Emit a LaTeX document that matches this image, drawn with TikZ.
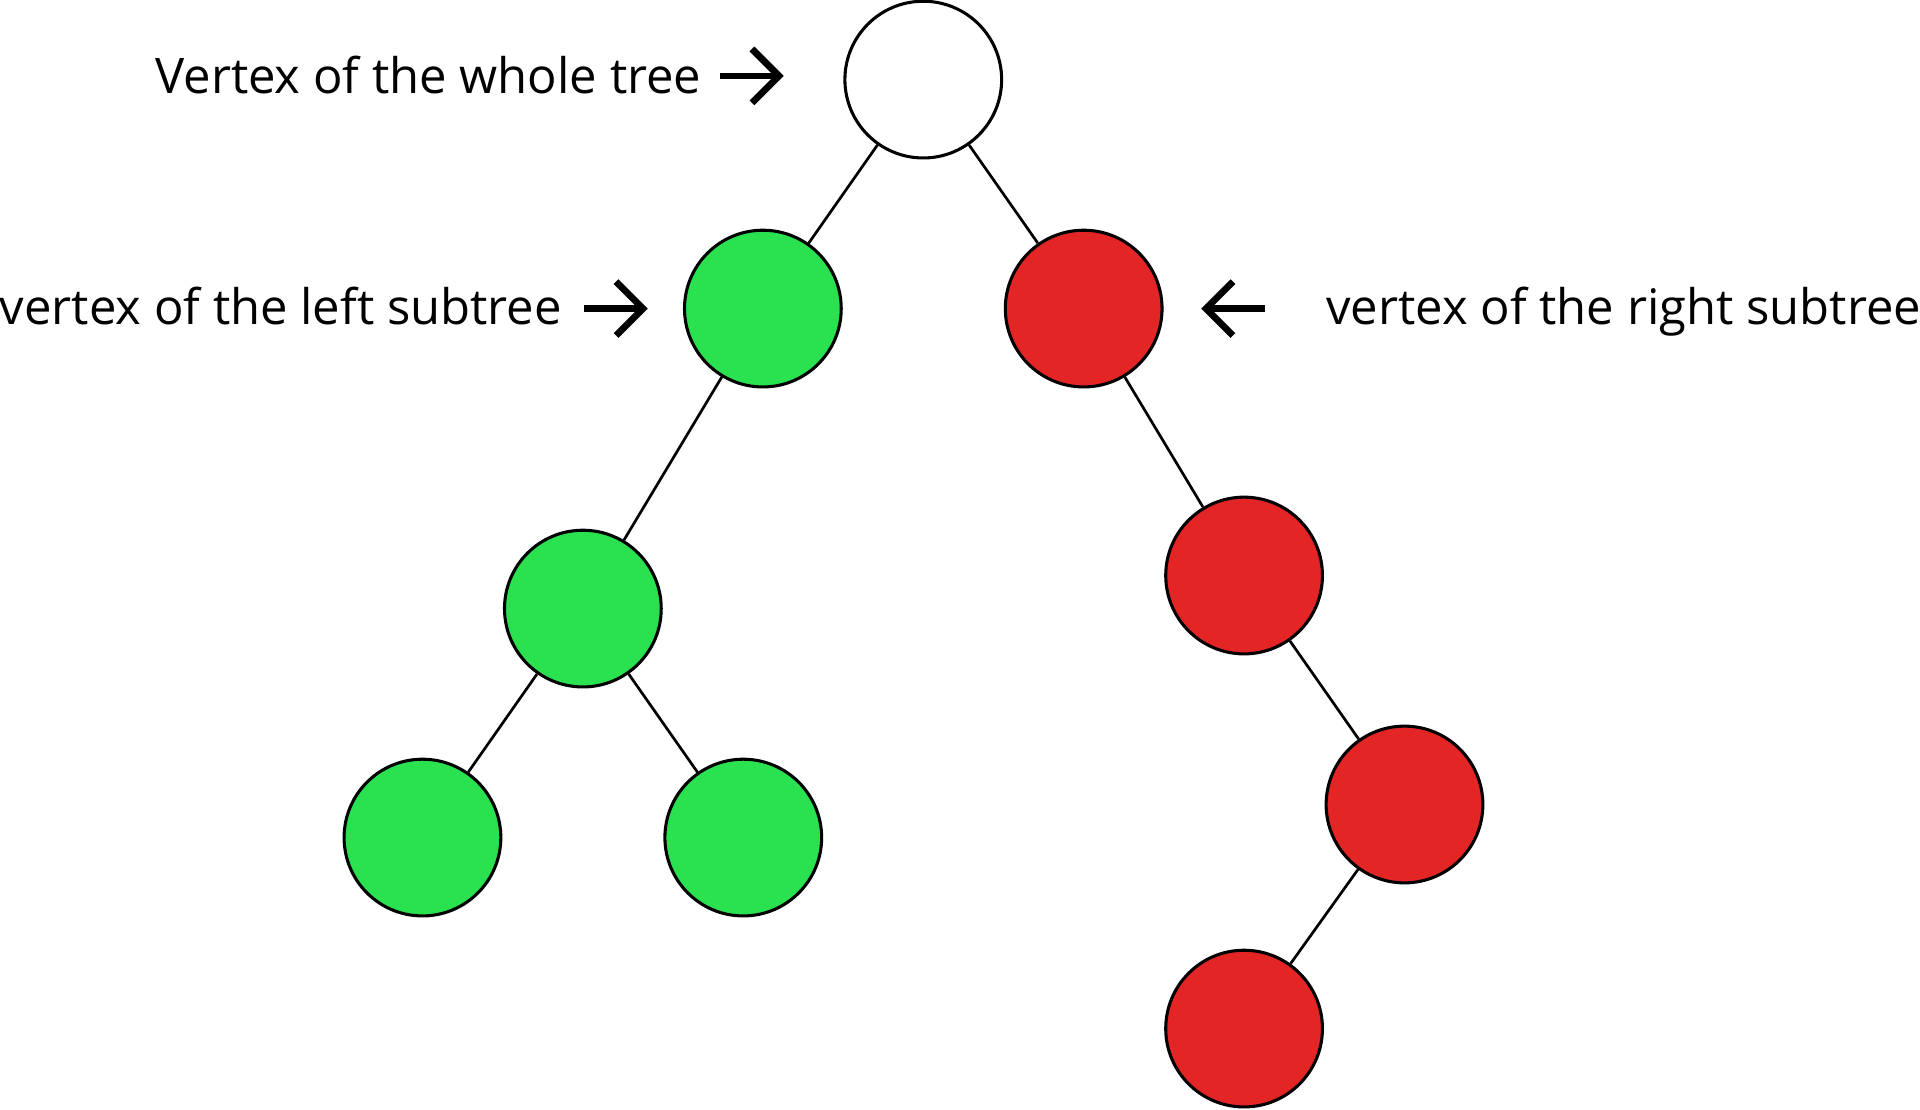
\documentclass[tikz,border=0pt]{standalone}
\usepackage{fontspec}
\setmainfont{Open Sans}
\usetikzlibrary{arrows.meta}

\definecolor{vgreen}{RGB}{42,226,79}
\definecolor{vred}{RGB}{227,37,38}

\tikzset{
  vertex/.style={circle,draw,line width=2.5pt,minimum size=128pt,inner sep=0pt},
  greenv/.style={vertex,fill=vgreen},
  redv/.style={vertex,fill=vred},
  link/.style={line width=2.2pt},
  pointer/.style={line width=5.5pt,-{Straight Barb[length=22pt,width=44pt,line width=5.5pt]}},
  caption/.style={font=\fontsize{40}{46}\selectfont,inner sep=0pt}
}

\begin{document}
\begin{tikzpicture}[x=1pt,y=-1pt]
\useasboundingbox (0,0) rectangle (1568,906);

\node[vertex] (root) at (754,65) {};
\node[greenv] (l) at (623,252) {};
\node[redv] (r) at (885,252) {};
\node[greenv] (ll) at (476,497) {};
\node[greenv] (lll) at (345,684) {};
\node[greenv] (llr) at (607,684) {};
\node[redv] (rr) at (1016,470) {};
\node[redv] (rrr) at (1147,657) {};
\node[redv] (rrrl) at (1016,840) {};

\draw[link] (root) -- (l);
\draw[link] (root) -- (r);
\draw[link] (l) -- (ll);
\draw[link] (ll) -- (lll);
\draw[link] (ll) -- (llr);
\draw[link] (r) -- (rr);
\draw[link] (rr) -- (rrr);
\draw[link] (rrr) -- (rrrl);

\node[caption,anchor=base east] (twhole) at (573,76) {Vertex of the whole tree};
\node[caption,anchor=base east] (tleft) at (459,265) {vertex of the left subtree};
\node[caption,anchor=base west] (tright) at (1083,265) {vertex of the right subtree};

\coordinate (pw1) at (588,62);
\coordinate (pw2) at (640,62);
\coordinate (pl1) at (477,252);
\coordinate (pl2) at (529,252);
\coordinate (pr1) at (1033,252);
\coordinate (pr2) at (981,252);
\draw[pointer] (pw1) -- (pw2);
\draw[pointer] (pl1) -- (pl2);
\draw[pointer] (pr1) -- (pr2);

\end{tikzpicture}
\end{document}
